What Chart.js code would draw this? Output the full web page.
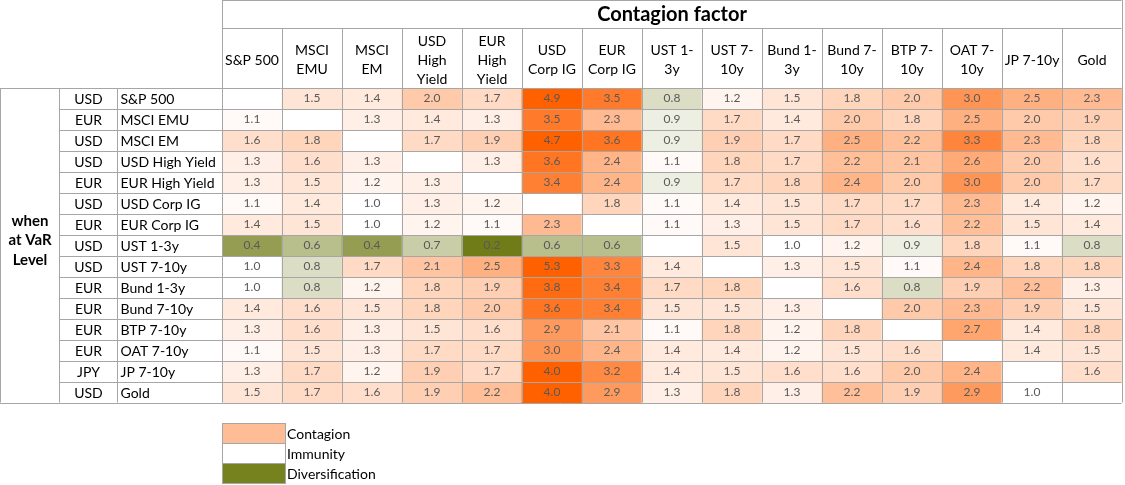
<!DOCTYPE html>
<html>
<head>
<meta charset="utf-8">
<script src="https://cdn.jsdelivr.net/npm/chart.js@4.4.1/dist/chart.umd.min.js"></script>
<style>
  body { margin: 0; background: #fff; }
  #wrap { width: 1125px; height: 485px; }
</style>
</head>
<body>
<div id="wrap"><canvas id="heat" width="1125" height="485"></canvas></div>
<script>
// contagion factor columns (header lines as they wrap in the table)
const columns = ["S&P 500", "MSCI EMU", "MSCI EM", "USD High Yield", "EUR High Yield", "USD Corp IG", "EUR Corp IG",
  "UST 1-3y", "UST 7-10y", "Bund 1-3y", "Bund 7-10y", "BTP 7-10y", "OAT 7-10y", "JP 7-10y", "Gold"];
const columnLines = [["S&P 500"], ["MSCI", "EMU"], ["MSCI", "EM"], ["USD", "High", "Yield"], ["EUR", "High", "Yield"],
  ["USD", "Corp IG"], ["EUR", "Corp IG"], ["UST 1-", "3y"], ["UST 7-", "10y"], ["Bund 1-", "3y"], ["Bund 7-", "10y"],
  ["BTP 7-", "10y"], ["OAT 7-", "10y"], ["JP 7-10y"], ["Gold"]];

// assets at VaR level (rows)
const rowNames = ["S&P 500", "MSCI EMU", "MSCI EM", "USD High Yield", "EUR High Yield", "USD Corp IG", "EUR Corp IG",
  "UST 1-3y", "UST 7-10y", "Bund 1-3y", "Bund 7-10y", "BTP 7-10y", "OAT 7-10y", "JP 7-10y", "Gold"];
const rowCurrency = ["USD", "EUR", "USD", "USD", "EUR", "USD", "EUR", "USD", "USD", "EUR", "EUR", "EUR", "EUR", "JPY", "USD"];

const rowSP500     = [null, 1.5, 1.4, 2.0, 1.7, 4.9, 3.5, 0.8, 1.2, 1.5, 1.8, 2.0, 3.0, 2.5, 2.3];
const rowMsciEmu   = [1.1, null, 1.3, 1.4, 1.3, 3.5, 2.3, 0.9, 1.7, 1.4, 2.0, 1.8, 2.5, 2.0, 1.9];
const rowMsciEm    = [1.6, 1.8, null, 1.7, 1.9, 4.7, 3.6, 0.9, 1.9, 1.7, 2.5, 2.2, 3.3, 2.3, 1.8];
const rowUsdHy     = [1.3, 1.6, 1.3, null, 1.3, 3.6, 2.4, 1.1, 1.8, 1.7, 2.2, 2.1, 2.6, 2.0, 1.6];
const rowEurHy     = [1.3, 1.5, 1.2, 1.3, null, 3.4, 2.4, 0.9, 1.7, 1.8, 2.4, 2.0, 3.0, 2.0, 1.7];
const rowUsdIg     = [1.1, 1.4, 1.0, 1.3, 1.2, null, 1.8, 1.1, 1.4, 1.5, 1.7, 1.7, 2.3, 1.4, 1.2];
const rowEurIg     = [1.4, 1.5, 1.0, 1.2, 1.1, 2.3, null, 1.1, 1.3, 1.5, 1.7, 1.6, 2.2, 1.5, 1.4];
const rowUst13     = [0.4, 0.6, 0.4, 0.7, 0.2, 0.6, 0.6, null, 1.5, 1.0, 1.2, 0.9, 1.8, 1.1, 0.8];
const rowUst710    = [1.0, 0.8, 1.7, 2.1, 2.5, 5.3, 3.3, 1.4, null, 1.3, 1.5, 1.1, 2.4, 1.8, 1.8];
const rowBund13    = [1.0, 0.8, 1.2, 1.8, 1.9, 3.8, 3.4, 1.7, 1.8, null, 1.6, 0.8, 1.9, 2.2, 1.3];
const rowBund710   = [1.4, 1.6, 1.5, 1.8, 2.0, 3.6, 3.4, 1.5, 1.5, 1.3, null, 2.0, 2.3, 1.9, 1.5];
const rowBtp710    = [1.3, 1.6, 1.3, 1.5, 1.6, 2.9, 2.1, 1.1, 1.8, 1.2, 1.8, null, 2.7, 1.4, 1.8];
const rowOat710    = [1.1, 1.5, 1.3, 1.7, 1.7, 3.0, 2.4, 1.4, 1.4, 1.2, 1.5, 1.6, null, 1.4, 1.5];
const rowJp710     = [1.3, 1.7, 1.2, 1.9, 1.7, 4.0, 3.2, 1.4, 1.5, 1.6, 1.6, 2.0, 2.4, null, 1.6];
const rowGold      = [1.5, 1.7, 1.6, 1.9, 2.2, 4.0, 2.9, 1.3, 1.8, 1.3, 2.2, 1.9, 2.9, 1.0, null];

const rowValues = [rowSP500, rowMsciEmu, rowMsciEm, rowUsdHy, rowEurHy, rowUsdIg, rowEurIg, rowUst13,
  rowUst710, rowBund13, rowBund710, rowBtp710, rowOat710, rowJp710, rowGold];

const legendLabels = ["Contagion", "Immunity", "Diversification"];

// colour scale: olive (diversification) -> white at 1 -> orange (contagion)
const ORANGE = [255, 96, 0];
const OLIVE = [112, 124, 24];
function mix(c, t) {
  t = Math.max(0, Math.min(1, t));
  return "rgb(" + c.map(v => Math.round(255 - t * (255 - v))).join(",") + ")";
}
function cellColor(v) {
  if (v === null) return "#ffffff";
  if (v >= 1) return mix(ORANGE, (v - 1) / 3.0);
  return mix(OLIVE, (1 - v) / 0.8);
}

const GRID = "#a6a6a6";
const FONT = "Lato, 'Open Sans', sans-serif";

const datasets = rowValues.map((vals, i) => ({
  label: rowNames[i],
  data: vals.map(() => [i, i + 1]),
  backgroundColor: vals.map(cellColor),
  borderWidth: 0,
  barPercentage: 1,
  categoryPercentage: 1,
  grouped: false
}));

// table text, grid lines and legend
const tablePlugin = {
  id: "table",
  afterDatasetsDraw(chart) {
    const ctx = chart.ctx;
    const xs = chart.scales.x, ys = chart.scales.y;
    const area = chart.chartArea;
    const L = Math.round(area.left) + 0.5, R = Math.round(area.right) - 0.5;
    const T = Math.round(area.top) + 0.5, B = Math.round(area.bottom) - 0.5;
    const colW = (area.right - area.left) / columns.length;
    const edgeX = k => Math.round(area.left + k * colW) + 0.5;
    const edgeY = k => Math.round(ys.getPixelForValue(k)) + 0.5;
    const curL = 59.5, nameL = 117.5;

    ctx.save();
    // cell values
    ctx.font = "12px " + FONT;
    ctx.fillStyle = "#595959";
    ctx.textAlign = "center";
    ctx.textBaseline = "middle";
    rowValues.forEach((vals, i) => {
      vals.forEach((v, j) => {
        if (v === null) return;
        ctx.fillText(v.toFixed(1), xs.getPixelForValue(j), ys.getPixelForValue(i + 0.5));
      });
    });

    // grid lines
    ctx.strokeStyle = GRID;
    ctx.lineWidth = 1;
    ctx.beginPath();
    for (let k = 0; k <= columns.length; k++) {
      const x = edgeX(k);
      ctx.moveTo(x, k === 0 || k === columns.length ? 0 : 28); ctx.lineTo(x, B);
    }
    for (let k = 0; k <= rowNames.length; k++) {
      const y = edgeY(k);
      ctx.moveTo(k === 0 || k === rowNames.length ? 0 : curL, y); ctx.lineTo(R, y);
    }
    ctx.moveTo(L, 0.5); ctx.lineTo(R, 0.5);
    ctx.moveTo(L, 28.5); ctx.lineTo(R, 28.5);
    ctx.moveTo(0.5, T); ctx.lineTo(0.5, B);
    ctx.moveTo(curL, T); ctx.lineTo(curL, B);
    ctx.moveTo(nameL, T); ctx.lineTo(nameL, B);
    ctx.stroke();

    // header
    ctx.fillStyle = "#000";
    ctx.font = "bold 20px " + FONT;
    ctx.fillText("Contagion factor", (area.left + area.right) / 2, 15);
    ctx.font = "14px " + FONT;
    columnLines.forEach((lines, j) => {
      const cx = xs.getPixelForValue(j);
      const y0 = 60 - (lines.length - 1) * 19 / 2;
      lines.forEach((ln, n) => ctx.fillText(ln, cx, y0 + n * 19));
    });

    // row labels
    ctx.font = "14px " + FONT;
    rowNames.forEach((name, i) => {
      const cy = ys.getPixelForValue(i + 0.5) + 1;
      ctx.textAlign = "center";
      ctx.fillText(rowCurrency[i], (curL + nameL) / 2, cy);
      ctx.textAlign = "left";
      ctx.fillText(name, nameL + 3, cy);
    });
    ctx.textAlign = "center";
    ctx.font = "bold 15px " + FONT;
    ["when", "at VaR", "Level"].forEach((t, n) => ctx.fillText(t, 30, 221 + n * 19.5));

    // legend
    const legendColors = [cellColor(2.25), "#ffffff", "#76821e"];
    ctx.font = "14px " + FONT;
    ctx.textAlign = "left";
    legendLabels.forEach((lab, n) => {
      const y = 423 + n * 20;
      ctx.fillStyle = legendColors[n];
      ctx.fillRect(area.left, y, 63, 20);
      ctx.strokeStyle = GRID;
      ctx.strokeRect(Math.round(area.left) + 0.5, y + 0.5, 63, 20);
      ctx.fillStyle = "#000";
      ctx.fillText(lab, area.left + 65, y + 11);
    });
    ctx.restore();
  }
};

new Chart(document.getElementById("heat"), {
  type: "bar",
  data: { labels: columns, datasets: datasets },
  options: {
    responsive: false,
    animation: false,
    devicePixelRatio: 1,
    layout: { padding: { left: 222, top: 88, right: 3, bottom: 82 } },
    scales: {
      x: { type: "category", display: false, offset: true },
      y: { type: "linear", display: false, min: 0, max: rowNames.length, reverse: true }
    },
    plugins: { legend: { display: false }, tooltip: { enabled: false } }
  },
  plugins: [tablePlugin]
});
</script>
</body>
</html>
